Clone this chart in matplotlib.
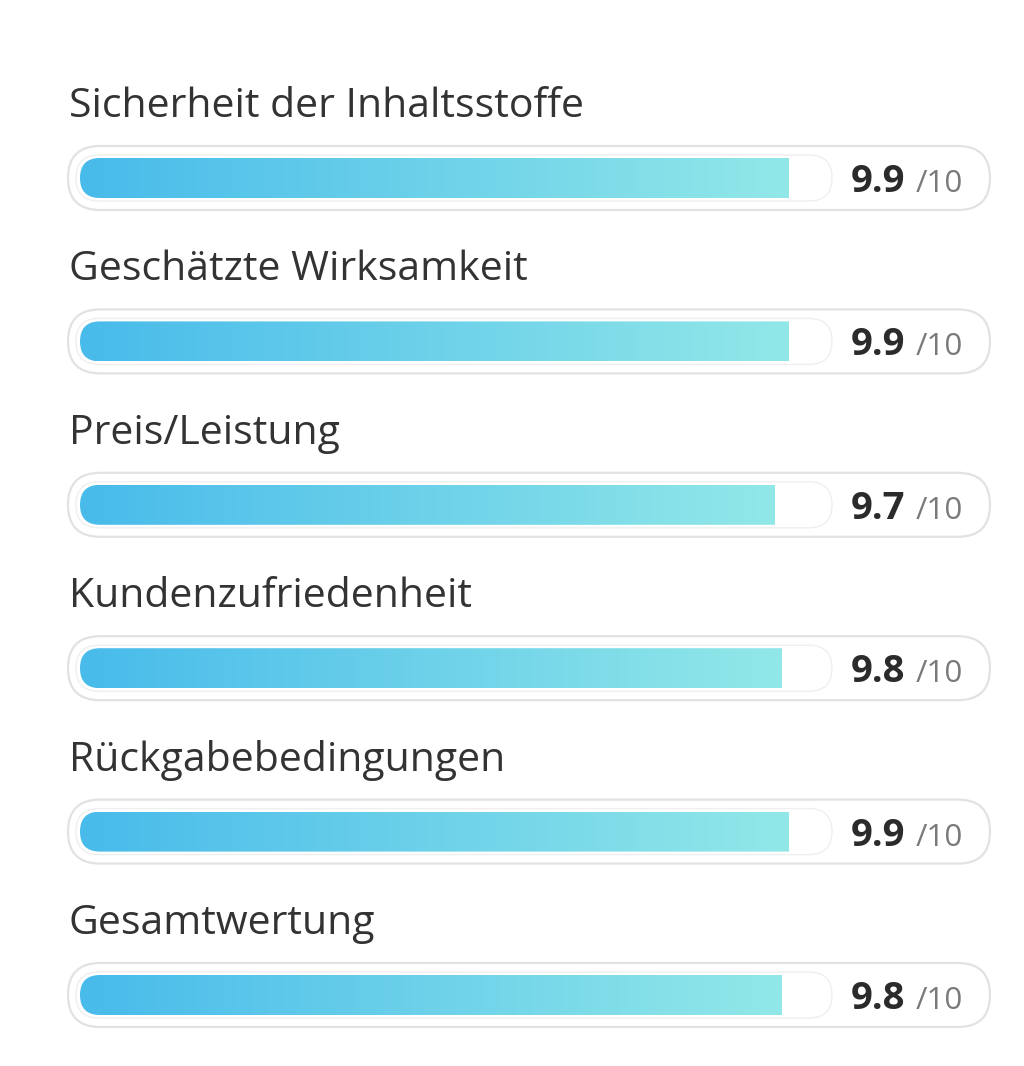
import numpy as np
import matplotlib
matplotlib.use("Agg")
import matplotlib.pyplot as plt
from matplotlib.patches import FancyBboxPatch
from matplotlib.colors import LinearSegmentedColormap

# data
labels = ["Sicherheit der Inhaltsstoffe", "Geschätzte Wirksamkeit", "Preis/Leistung",
          "Kundenzufriedenheit", "Rückgabebedingungen", "Gesamtwertung"]
scores = [9.9, 9.9, 9.7, 9.8, 9.9, 9.8]
max_score = 10

plt.rcParams['font.family'] = ['Open Sans', 'DejaVu Sans']

W, H = 1024, 1066
PX = 71.6      # pixels per score unit
X0 = 80        # pixel where score 0 sits
ROW = 163.4    # pixels per row
Y0 = 178       # pixel centre of the first row

fig = plt.figure(figsize=(W / 100, H / 100), dpi=100)
ax = fig.add_axes([0, 0, 1, 1])
ax.set_xlim(-X0 / PX, (W - X0) / PX)
ax.set_ylim((H - Y0) / ROW, -Y0 / ROW)
ax.axis('off')

asp = PX / ROW   # keeps the rounded ends circular


def px(p):
    return (p - X0) / PX


def py(p):
    return p / ROW


def pill(x0, x1, yc, h, **kw):
    r = py(h) / 2 / asp
    p = FancyBboxPatch((x0, yc - py(h) / 2), x1 - x0, py(h),
                       boxstyle=f"round,pad=0,rounding_size={r}",
                       mutation_aspect=asp, **kw)
    ax.add_patch(p)
    return p


cmap = LinearSegmentedColormap.from_list('bar', ['#48bbeb', '#92e8e8'])
grad = np.linspace(0, 1, 256).reshape(1, -1)

for i, (lab, val) in enumerate(zip(labels, scores)):
    ax.text(px(69), i - py(61), lab, fontsize=29.5, color='#333333', va='baseline', ha='left')
    pill(px(68), px(990), i, 64, facecolor='white', edgecolor='#e2e2e2', lw=1.6, zorder=1)
    pill(px(76), px(832), i, 46, facecolor='white', edgecolor='#efefef', lw=1.0, zorder=2)

    bh = py(40)
    ax.barh(i, val, height=bh, left=0, color='none', zorder=3)
    clip = pill(0, val + py(40) / asp, i, 40, facecolor='none', edgecolor='none', zorder=3)
    im = ax.imshow(grad, cmap=cmap, aspect='auto', extent=(0, val, i + bh / 2, i - bh / 2),
                   interpolation='bilinear', zorder=3)
    im.set_clip_path(clip)

    ax.text(px(851), i + py(14), f"{val:.1f}", fontsize=27.5, fontweight='bold',
            color='#2b2b2b', va='baseline', ha='left')
    ax.text(px(916), i + py(14), f"/{max_score}", fontsize=22.5, color='#7a7a7a',
            va='baseline', ha='left')

ax.set_xlim(-X0 / PX, (W - X0) / PX)
ax.set_ylim((H - Y0) / ROW, -Y0 / ROW)
fig.savefig('out.png', dpi=100, facecolor='white')
